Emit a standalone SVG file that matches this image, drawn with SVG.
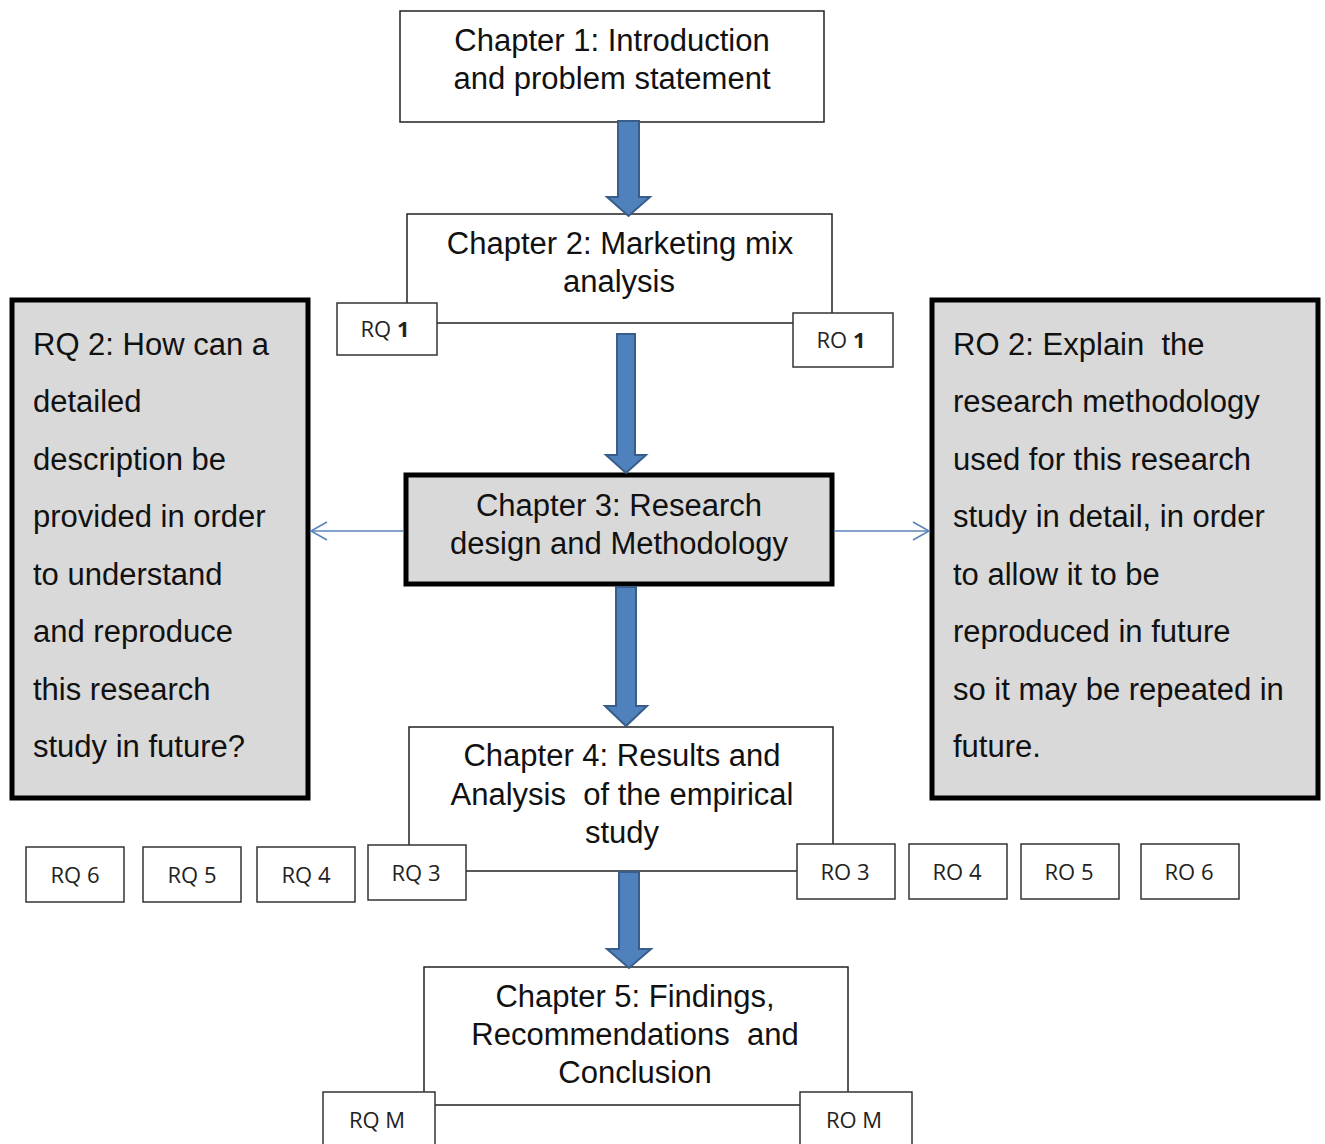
<svg xmlns="http://www.w3.org/2000/svg" width="1325" height="1144" viewBox="0 0 1325 1144">
  <defs>
    <style>
      .chap { fill: #ffffff; stroke: #222222; stroke-width: 1.5; }
      .chap3 { fill: #d9d9d9; stroke: #000000; stroke-width: 5; }
      .side { fill: #d9d9d9; stroke: #000000; stroke-width: 5; }
      .tag { fill: #ffffff; stroke: #333333; stroke-width: 1.5; }
      .big { font-family: "Liberation Sans", Arial, sans-serif; font-size: 31px; fill: #111111; white-space: pre; }
      .mid { text-anchor: middle; }
      .small { font-family: "Open Sans", "Liberation Sans", sans-serif; font-size: 22px; fill: #222222; text-anchor: middle; white-space: pre; }
      .block { fill: #4f81bd; stroke: #385d8a; stroke-width: 2; stroke-linejoin: miter; }
      .thin { stroke: #5b84b8; stroke-width: 1.6; fill: none; }
    </style>
    <marker id="open" viewBox="0 0 20 20" refX="18" refY="10" markerWidth="20" markerHeight="20" markerUnits="userSpaceOnUse" orient="auto">
      <path d="M2,1 L18,10 L2,19" fill="none" stroke="#5b84b8" stroke-width="1.6"/>
    </marker>
  </defs>

  <rect width="1325" height="1144" fill="#ffffff"/>

  <!-- Chapter boxes -->
  <g id="ch1">
    <rect class="chap" x="400" y="11" width="424" height="111"/>
    <text class="big mid" x="612" y="51">Chapter 1: Introduction</text>
    <text class="big mid" x="612" y="89">and problem statement</text>
  </g>

  <g id="ch2">
    <rect class="chap" x="407" y="214" width="425" height="109"/>
    <text class="big mid" x="620" y="254">Chapter 2: Marketing mix</text>
    <text class="big mid" x="619" y="292">analysis</text>
  </g>

  <g id="ch3">
    <rect class="chap3" x="406" y="475" width="426" height="109"/>
    <text class="big mid" x="619" y="516">Chapter 3: Research</text>
    <text class="big mid" x="619" y="554">design and Methodology</text>
  </g>

  <g id="ch4">
    <rect class="chap" x="409" y="727" width="424" height="144"/>
    <text class="big mid" x="622" y="766">Chapter 4: Results and</text>
    <text class="big mid" x="622" y="805">Analysis  of the empirical</text>
    <text class="big mid" x="622" y="843">study</text>
  </g>

  <g id="ch5">
    <rect class="chap" x="424" y="967" width="424" height="138"/>
    <text class="big mid" x="635" y="1007">Chapter 5: Findings,</text>
    <text class="big mid" x="635" y="1045">Recommendations  and</text>
    <text class="big mid" x="635" y="1083">Conclusion</text>
  </g>

  <!-- Side panels -->
  <g id="rq2">
    <rect class="side" x="12" y="300" width="296" height="498"/>
    <text class="big" x="33" y="355">RQ 2: How can a</text>
    <text class="big" x="33" y="412">detailed</text>
    <text class="big" x="33" y="470">description be</text>
    <text class="big" x="33" y="527">provided in order</text>
    <text class="big" x="33" y="585">to understand</text>
    <text class="big" x="33" y="642">and reproduce</text>
    <text class="big" x="33" y="700">this research</text>
    <text class="big" x="33" y="757">study in future?</text>
  </g>

  <g id="ro2">
    <rect class="side" x="932" y="300" width="386" height="498"/>
    <text class="big" x="953" y="355">RO 2: Explain  the</text>
    <text class="big" x="953" y="412">research methodology</text>
    <text class="big" x="953" y="470">used for this research</text>
    <text class="big" x="953" y="527">study in detail, in order</text>
    <text class="big" x="953" y="585">to allow it to be</text>
    <text class="big" x="953" y="642">reproduced in future</text>
    <text class="big" x="953" y="700">so it may be repeated in</text>
    <text class="big" x="953" y="757">future.</text>
  </g>

  <!-- Research question / objective tags -->
  <g id="rq1"><rect class="tag" x="337" y="303" width="100" height="52"/><text class="small" x="385" y="337">RQ <tspan font-weight="bold">1</tspan></text></g>
  <g id="ro1"><rect class="tag" x="793" y="313" width="100" height="54"/><text class="small" x="841" y="348">RO <tspan font-weight="bold">1</tspan></text></g>

  <g id="rq6"><rect class="tag" x="26" y="847" width="98" height="55"/><text class="small" x="75" y="883">RQ 6</text></g>
  <g id="rq5"><rect class="tag" x="143" y="847" width="98" height="55"/><text class="small" x="192" y="883">RQ 5</text></g>
  <g id="rq4"><rect class="tag" x="257" y="847" width="98" height="55"/><text class="small" x="306" y="883">RQ 4</text></g>
  <g id="rq3"><rect class="tag" x="368" y="845" width="98" height="55"/><text class="small" x="416" y="881">RQ 3</text></g>

  <g id="ro3"><rect class="tag" x="797" y="844" width="98" height="55"/><text class="small" x="845" y="880">RO 3</text></g>
  <g id="ro4"><rect class="tag" x="909" y="844" width="98" height="55"/><text class="small" x="957" y="880">RO 4</text></g>
  <g id="ro5"><rect class="tag" x="1021" y="844" width="98" height="55"/><text class="small" x="1069" y="880">RO 5</text></g>
  <g id="ro6"><rect class="tag" x="1141" y="844" width="98" height="55"/><text class="small" x="1189" y="880">RO 6</text></g>

  <g id="rqm"><rect class="tag" x="323" y="1092" width="112" height="60"/><text class="small" x="377" y="1128">RQ M</text></g>
  <g id="rom"><rect class="tag" x="800" y="1092" width="112" height="60"/><text class="small" x="854" y="1128">RO M</text></g>

  <!-- Connectors -->
  <g id="connectors">
    <path class="block" d="M618,121 H639 V197 H650 L628.5,216 L607,197 H618 Z"/>
    <path class="block" d="M617,334 H635 V455 H646 L626,473 L606,455 H617 Z"/>
    <path class="block" d="M616,587 H636 V706 H647 L626,726 L605,706 H616 Z"/>
    <path class="block" d="M619,872 H639 V949 H651 L629,968 L607,949 H619 Z"/>
    <line class="thin" x1="404" y1="531" x2="311" y2="531" marker-end="url(#open)"/>
    <line class="thin" x1="834" y1="531" x2="929" y2="531" marker-end="url(#open)"/>
  </g>
</svg>
